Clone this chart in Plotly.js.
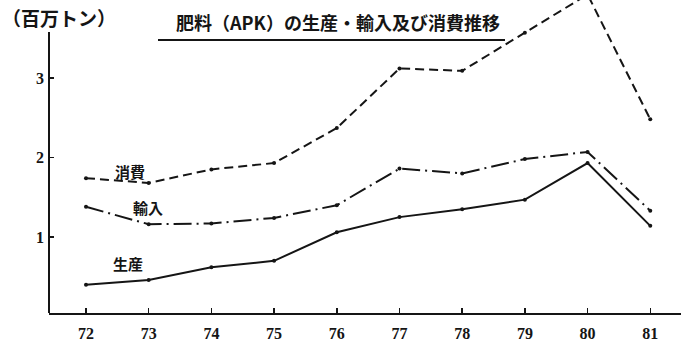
<!DOCTYPE html>
<html><head><meta charset="utf-8">
<script src="https://cdn.plot.ly/plotly-3.0.1.min.js"></script>
<style>body{margin:0;background:#fff}#c{width:681px;height:343px}</style>
</head><body><div id="c"></div>
<script>
const years = [72,73,74,75,76,77,78,79,80,81];
const yearLabels = ['72','73','74','75','76','77','78','79','80','81'];
const production = [0.40,0.46,0.62,0.70,1.06,1.25,1.35,1.47,1.93,1.14];
const imports = [1.38,1.16,1.17,1.24,1.40,1.86,1.80,1.98,2.07,1.33];
const consumption = [1.74,1.68,1.85,1.93,2.37,3.12,3.09,3.57,4.05,2.48];
const seriesNames = ['生産','輸入','消費'];
const titleText = '肥料（APK）の生産・輸入及び消費推移';
const unitText = '（百万トン）';

const ink = '#151515';
const jp = 'Noto Sans CJK JP';
const serif = 'Liberation Serif';

const traces = [
  {x: years, y: production, name: seriesNames[0], mode: 'lines+markers',
   line: {color: ink, width: 2}, marker: {color: ink, size: 4}},
  {x: years, y: imports, name: seriesNames[1], mode: 'lines+markers',
   line: {color: ink, width: 2, dash: '18px,5px,2px,5px'}, marker: {color: ink, size: 4}},
  {x: years, y: consumption, name: seriesNames[2], mode: 'lines+markers',
   line: {color: ink, width: 2, dash: '9px,5px'}, marker: {color: ink, size: 4}}
];

const layout = {
  width: 681, height: 343,
  margin: {l: 49, r: 0, t: 0, b: 30},
  paper_bgcolor: '#fff', plot_bgcolor: '#fff',
  showlegend: false,
  xaxis: {
    range: [71.41, 81.49], tickvals: years, ticktext: yearLabels,
    showgrid: false, zeroline: false, showline: true, linecolor: ink, linewidth: 2,
    ticks: 'inside', ticklen: 5, tickcolor: ink, tickwidth: 1.5,
    ticklabelstandoff: 5,
    tickfont: {family: serif, size: 16, color: ink, weight: 'bold'}
  },
  yaxis: {
    range: [0.044, 3.981], tickvals: [1,2,3], ticktext: ['1','2','3'],
    showgrid: false, zeroline: false, showline: false,
    ticks: 'inside', ticklen: 5, tickcolor: ink, tickwidth: 1.5,
    ticklabelstandoff: 4,
    tickfont: {family: serif, size: 16, color: ink, weight: 'bold'}
  },
  shapes: [
    {type: 'line', xref: 'paper', yref: 'y', x0: 0, x1: 0, y0: 0.044, y1: 3.58,
     line: {color: ink, width: 2}},
    {type: 'line', xref: 'paper', yref: 'paper', x0: (158-49)/632, x1: (505-49)/632,
     y0: (313-40)/313, y1: (313-40)/313, line: {color: ink, width: 2}}
  ],
  annotations: [
    {text: titleText, xref: 'paper', yref: 'paper', x: (338-49)/632, y: (313-22)/313,
     xanchor: 'center', yanchor: 'middle', showarrow: false,
     font: {family: jp, size: 18, color: ink, weight: 'bold'}},
    {text: unitText, xref: 'paper', yref: 'paper', x: (0-49)/632, y: (313-18)/313,
     xanchor: 'left', yanchor: 'middle', showarrow: false,
     font: {family: jp, size: 19, color: ink, weight: 'bold'}},
    {text: seriesNames[2], x: 72.70, y: 1.82, xref: 'x', yref: 'y', showarrow: false,
     font: {family: jp, size: 15, color: ink, weight: 'bold'}},
    {text: seriesNames[1], x: 72.99, y: 1.365, xref: 'x', yref: 'y', showarrow: false,
     font: {family: jp, size: 15, color: ink, weight: 'bold'}},
    {text: seriesNames[0], x: 72.67, y: 0.67, xref: 'x', yref: 'y', showarrow: false,
     font: {family: jp, size: 15, color: ink, weight: 'bold'}}
  ]
};
Plotly.newPlot('c', traces, layout, {displayModeBar: false, staticPlot: true});
</script></body></html>
